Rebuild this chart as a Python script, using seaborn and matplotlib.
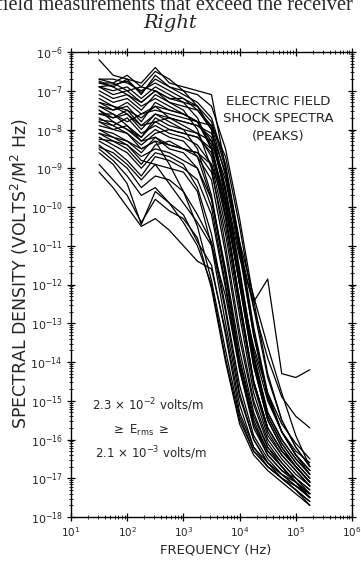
import numpy as np
import pandas as pd
import matplotlib
matplotlib.use("Agg")
import matplotlib.pyplot as plt
from matplotlib.ticker import LogLocator, NullFormatter
import seaborn as sns

# Analysis frequencies (Hz), quarter-decade steps
freqs = [31.6, 56.2, 100, 178, 316, 562, 1000, 1778, 3162, 5623,
         1.0e4, 1.778e4, 3.162e4, 5.623e4, 1.0e5, 1.778e5]

# log10 of spectral density (volts^2/m^2 Hz) for each shock event
upper_events = [
    [-6.2, -6.6, -6.7, -6.8, -6.4, -6.8, -6.9, -7.0, -7.1, -9.0, -10.9, -12.3, -13.6, -14.8, -15.9, -16.7],
    [-6.7, -6.8, -6.6, -6.9, -6.5, -6.7, -7.0, -7.1, -7.4, -8.5, -10.3, -12.4, -14.3, -15.5, -16.2, -16.7],
    [-6.8, -6.9, -6.7, -7.1, -6.6, -6.9, -7.1, -7.3, -7.7, -8.9, -10.9, -13.1, -14.8, -15.8, -16.4, -16.8],
    [-6.7, -6.7, -6.8, -7.0, -6.8, -7.0, -7.2, -7.5, -8.0, -9.5, -11.6, -13.8, -15.3, -16.0, -16.5, -16.9],
    [-6.9, -7.0, -6.9, -7.2, -6.9, -7.1, -7.3, -7.7, -8.5, -10.2, -12.4, -14.5, -15.7, -16.3, -16.7, -17.1],
    [-6.8, -6.8, -7.0, -6.9, -7.0, -7.3, -7.5, -8.0, -9.0, -11.0, -13.2, -15.0, -16.0, -16.5, -16.9, -17.2],
    [-6.75, -6.9, -7.1, -7.3, -7.0, -7.2, -7.3, -7.4, -7.8, -9.0, -11.0, -13.2, -14.9, -15.8, -16.4, -16.9],
    [-6.9, -6.85, -6.75, -7.05, -6.7, -6.9, -7.0, -7.4, -8.0, -9.6, -11.7, -13.9, -15.4, -16.1, -16.6, -17.0],
]
middle_events = [
    [-7.3, -7.5, -7.4, -7.8, -7.3, -7.5, -7.6, -7.8, -8.5, -10.2, -12.4, -14.5, -15.7, -16.3, -16.7, -17.1],
    [-7.4, -7.6, -7.8, -7.6, -7.4, -7.7, -7.8, -7.9, -8.2, -9.6, -11.7, -13.9, -15.3, -16.0, -16.5, -16.9],
    [-7.5, -7.7, -7.6, -8.0, -7.6, -7.8, -8.0, -8.5, -9.7, -11.7, -13.9, -15.4, -16.2, -16.6, -17.0, -17.3],
    [-7.6, -7.6, -7.9, -8.2, -7.7, -7.9, -8.0, -8.1, -8.3, -9.3, -11.2, -13.3, -14.9, -15.8, -16.4, -16.8],
    [-7.7, -7.9, -7.7, -8.1, -7.9, -8.1, -8.2, -8.4, -8.9, -10.5, -12.6, -14.6, -15.8, -16.4, -16.8, -17.2],
    [-7.75, -7.8, -8.0, -8.3, -8.0, -8.2, -8.3, -8.7, -9.8, -11.8, -14.0, -15.5, -16.3, -16.7, -17.1, -17.5],
    [-7.4, -7.5, -7.3, -7.6, -7.5, -7.6, -7.7, -7.8, -7.9, -8.7, -10.5, -12.6, -14.4, -15.5, -16.2, -16.7],
    [-7.8, -7.9, -8.1, -8.4, -8.1, -8.0, -8.1, -8.2, -8.6, -9.9, -12.0, -14.1, -15.5, -16.2, -16.7, -17.1],
    [-7.9, -8.0, -7.9, -8.3, -8.2, -8.4, -8.5, -8.7, -9.3, -11.2, -13.4, -15.1, -16.1, -16.6, -17.0, -17.4],
    [-7.2, -7.4, -7.6, -7.9, -7.6, -7.7, -7.8, -7.9, -8.1, -9.1, -11.1, -13.3, -14.9, -15.8, -16.4, -16.8],
    [-7.5, -7.8, -8.0, -8.2, -7.8, -7.7, -7.9, -8.1, -8.7, -10.3, -12.5, -14.5, -15.7, -16.3, -16.7, -17.1],
    [-7.6, -7.7, -7.5, -7.9, -7.8, -8.0, -8.1, -8.2, -8.5, -9.8, -11.9, -14.0, -15.4, -16.1, -16.6, -17.0],
]
lower_events = [
    [-8.0, -8.1, -8.3, -8.6, -8.2, -8.5, -8.6, -9.0, -10.0, -12.0, -14.1, -15.6, -16.3, -16.7, -17.1, -17.5],
    [-8.1, -8.3, -8.5, -8.9, -8.4, -8.3, -8.5, -8.6, -9.1, -10.7, -12.8, -14.8, -15.9, -16.4, -16.8, -17.2],
    [-8.2, -8.4, -8.6, -9.0, -8.6, -8.7, -8.9, -9.5, -10.7, -12.6, -14.6, -15.9, -16.5, -16.9, -17.2, -17.5],
    [-8.25, -8.3, -8.4, -8.7, -8.5, -8.6, -8.8, -9.0, -9.8, -11.6, -13.7, -15.3, -16.2, -16.7, -17.1, -17.5],
    [-8.3, -8.5, -8.8, -9.2, -8.7, -8.8, -9.0, -9.3, -10.2, -12.1, -14.2, -15.6, -16.4, -16.8, -17.1, -17.4],
    [-8.45, -8.6, -8.9, -9.3, -8.9, -9.0, -9.1, -9.6, -11.0, -13.0, -14.9, -16.0, -16.6, -17.0, -17.3, -17.6],
    [-8.1, -8.2, -8.3, -8.5, -8.3, -8.4, -8.5, -8.6, -8.9, -10.0, -12.0, -14.1, -15.5, -16.2, -16.7, -17.1],
    [-8.4, -8.7, -9.0, -9.5, -9.2, -9.3, -9.6, -10.5, -11.9, -13.7, -15.4, -16.3, -16.7, -17.0, -17.3, -17.6],
    [-8.0, -8.2, -8.4, -8.8, -8.9, -9.4, -9.9, -10.4, -11.0, -12.3, -14.2, -15.7, -16.4, -16.8, -17.0, -17.3],
    [-7.8, -8.0, -8.1, -8.5, -8.3, -8.9, -9.6, -10.2, -10.9, -12.7, -14.8, -16.0, -16.6, -16.9, -17.1, -17.4],
    [-8.5, -8.8, -9.2, -9.7, -9.5, -9.9, -10.2, -10.9, -11.5, -13.3, -15.3, -16.2, -16.6, -16.9, -17.2, -17.5],
]
weak_events = [
    [-8.9, -9.3, -9.7, -10.4, -9.8, -10.1, -10.3, -10.8, -12.1, -14.0, -15.6, -16.4, -16.8, -17.1, -17.4, -17.7],
    [-9.1, -9.5, -10.0, -10.5, -10.3, -10.6, -11.0, -11.4, -11.6, -13.2, -15.1, -16.2, -16.7, -17.0, -17.3, -17.7],
    [-8.6, -8.9, -9.4, -10.45, -9.6, -9.9, -10.4, -11.0, -12.0, -13.9, -15.5, -16.3, -16.7, -17.0, -17.2, -17.4],
]
broadband_events = [
    [-7.0, -7.2, -7.1, -7.4, -7.2, -7.4, -7.6, -7.8, -8.3, -9.6, -11.3, -12.45, -11.86, -14.3, -14.4, -14.2],
    [-7.1, -7.3, -7.2, -7.5, -7.1, -7.3, -7.4, -7.5, -7.9, -9.2, -11.0, -12.6, -13.9, -14.9, -15.4, -15.7],
    [-7.3, -7.4, -7.5, -7.7, -7.4, -7.5, -7.6, -7.8, -8.4, -10.0, -12.0, -13.6, -14.8, -15.6, -16.1, -16.5],
    [-6.9, -7.1, -7.0, -7.3, -7.0, -7.2, -7.2, -7.4, -8.0, -9.8, -11.9, -13.7, -15.0, -15.8, -16.3, -16.6],
]

groups = [upper_events, middle_events, lower_events, weak_events, broadband_events]

rows = []
event_id = 0
for group in groups:
    for spectrum in group:
        for f, lv in zip(freqs, spectrum):
            rows.append({"event": event_id, "freq": f, "psd": 10.0 ** lv})
        event_id += 1
df = pd.DataFrame(rows)

sns.set_style("ticks")
plt.rcParams["font.family"] = ["DejaVu Sans"]
plt.rcParams["mathtext.fontset"] = "dejavusans"

fig = plt.figure(figsize=(3.61, 5.65), dpi=100)
ax = fig.add_axes([71 / 361, 1 - 517 / 565, (352 - 71) / 361, (517 - 52) / 565])

sns.lineplot(data=df, x="freq", y="psd", units="event", estimator=None,
             color="black", linewidth=0.9, ax=ax, legend=False)

ax.set_xscale("log")
ax.set_yscale("log")
ax.set_xlim(10, 1e6)
ax.set_ylim(1e-18, 1e-6)

ax.xaxis.set_major_locator(LogLocator(base=10, numticks=20))
ax.yaxis.set_major_locator(LogLocator(base=10, numticks=20))
ax.xaxis.set_minor_locator(LogLocator(base=10, subs=np.arange(2, 10), numticks=40))
ax.yaxis.set_minor_locator(LogLocator(base=10, subs=np.arange(2, 10), numticks=40))
ax.xaxis.set_minor_formatter(NullFormatter())
ax.yaxis.set_minor_formatter(NullFormatter())

ax.tick_params(which="both", direction="inout", top=True, right=True, color="black")
ax.tick_params(which="major", length=6, width=0.9, labelsize=8, pad=3)
ax.tick_params(which="minor", length=3, width=0.6)
ax.tick_params(axis="x", which="major", labelsize=7.5)
for s in ax.spines.values():
    s.set_linewidth(1.0)
    s.set_color("black")

ax.set_xlabel("FREQUENCY (Hz)", fontsize=9.5)
ax.set_ylabel(r"SPECTRAL DENSITY (VOLTS$^2$/M$^2$ Hz)", fontsize=12.5)
ax.xaxis.set_label_coords(0.516, -0.058)
ax.yaxis.set_label_coords(-0.142, 0.523)

ax.text(278 / 361, 1 - 119 / 565, "ELECTRIC FIELD\nSHOCK SPECTRA\n(PEAKS)",
        transform=fig.transFigure, ha="center", va="center", fontsize=9.5,
        linespacing=1.45)
ax.text(148 / 361, 1 - 405 / 565, r"2.3 $\times$ 10$^{-2}$ volts/m",
        transform=fig.transFigure, ha="center", va="center", fontsize=8.5)
ax.text(140 / 361, 1 - 430 / 565, r"$\geq$ E$_{\rm rms}$ $\geq$",
        transform=fig.transFigure, ha="center", va="center", fontsize=8.5)
ax.text(151 / 361, 1 - 453 / 565, r"2.1 $\times$ 10$^{-3}$ volts/m",
        transform=fig.transFigure, ha="center", va="center", fontsize=8.5)

fig.text(0.482, 1 - 10 / 565, "field measurements that exceed the receiver",
         ha="center", va="baseline", fontsize=14.7, family="Liberation Serif")
fig.text(170 / 361, 1 - 28 / 565, "Right", ha="center", va="baseline",
         fontsize=14, family="DejaVu Serif", style="italic")

fig.savefig("out.png", dpi=100)
